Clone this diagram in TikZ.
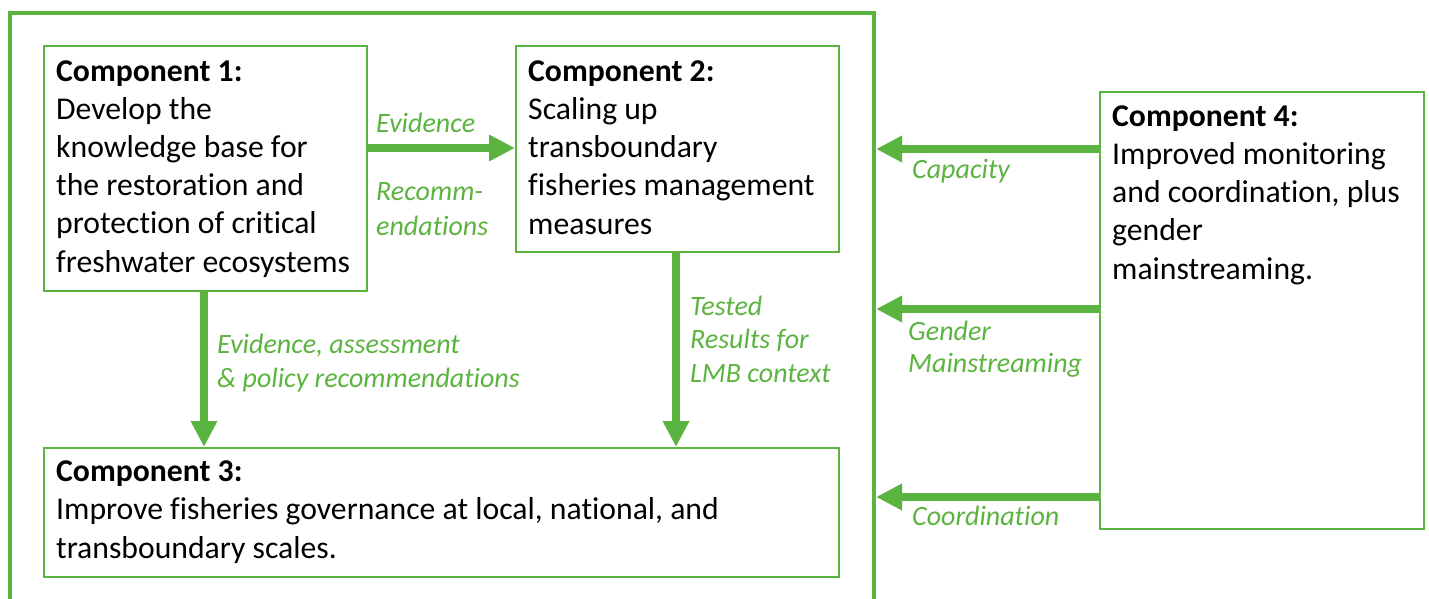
\documentclass[tikz,border=0pt]{standalone}
\usepackage{fontspec}
\setmainfont{Carlito}[Ligatures=NoCommon]
\usetikzlibrary{arrows.meta}
\definecolor{gr}{RGB}{92,180,64}
\begin{document}
\begin{tikzpicture}[x=1pt,y=-1pt,
 box/.style={draw=gr, line width=1.6pt, inner sep=0pt, anchor=north west},
 txt/.style={anchor=base west, align=left, inner sep=0pt, font=\fontsize{31.7}{38.2}\selectfont, text=black},
 lab/.style={anchor=base west, align=left, inner sep=0pt, font=\fontsize{28}{33.5}\selectfont\itshape, text=gr},
 arr/.style={draw=gr, line width=8pt, -{Triangle[length=26pt,width=25pt]}},
 frame/.style={draw=gr, line width=4pt, line join=miter}]
\useasboundingbox (0,0) rectangle (1429,599);
\fill[white] (0,0) rectangle (1429,599);
% outer frame
\draw[frame] (9.5,610) -- (9.5,13.5) -- (874,13.5) -- (874,610);
\coordinate (fr) at (876,0);
% boxes
\node[box, minimum width=323pt, minimum height=245pt] (b1) at (43,45) {};
\node[box, minimum width=323pt, minimum height=206pt] (b2) at (515,45) {};
\node[box, minimum width=795pt, minimum height=129pt] (b3) at (43,447) {};
\node[box, minimum width=324pt, minimum height=437pt] (b4) at (1099,91) {};
% box texts (anchored at the baseline of the last line)
\node[txt] (t1) at (56,272) {\textbf{Component 1:}\\Develop the\\knowledge base for\\the restoration and\\protection of critical\\freshwater ecosystems};
\node[txt] (t2) at (528,234) {\textbf{Component 2:}\\Scaling up\\transboundary\\fisheries management\\measures};
\node[txt] (t3) at (56,558) {\textbf{Component 3:}\\Improve fisheries governance at local, national, and\\transboundary scales.};
\node[txt] (t4) at (1112,279) {\textbf{Component 4:}\\Improved monitoring\\and coordination, plus\\gender\\mainstreaming.};
% arrows
\draw[arr] (b1.east |- 0,148) -- (b2.west |- 0,148);
\draw[arr] (b1.south -| 204,0) -- (b3.north -| 204,0);
\draw[arr] (b2.south -| 676,0) -- (b3.north -| 676,0);
\draw[arr] (b4.west |- 0,149) -- (fr |- 0,149);
\draw[arr] (b4.west |- 0,309) -- (fr |- 0,309);
\draw[arr] (b4.west |- 0,497) -- (fr |- 0,497);
% labels (anchored at the baseline of the last line)
\node[lab] (l1) at (376,132) {Evidence};
\node[lab, font=\fontsize{28}{35}\selectfont\itshape] (l2) at (376,235) {Recomm-\\endations};
\node[lab] (l3) at (217,387) {Evidence, assessment\\\& policy recommendations};
\node[lab] (l4) at (690,382) {Tested\\Results for\\LMB context};
\node[lab] (l5) at (912,178) {Capacity};
\node[lab, font=\fontsize{28}{32}\selectfont\itshape] (l6) at (908,372) {Gender\\Mainstreaming};
\node[lab] (l7) at (912,525) {Coordination};
\end{tikzpicture}
\end{document}
